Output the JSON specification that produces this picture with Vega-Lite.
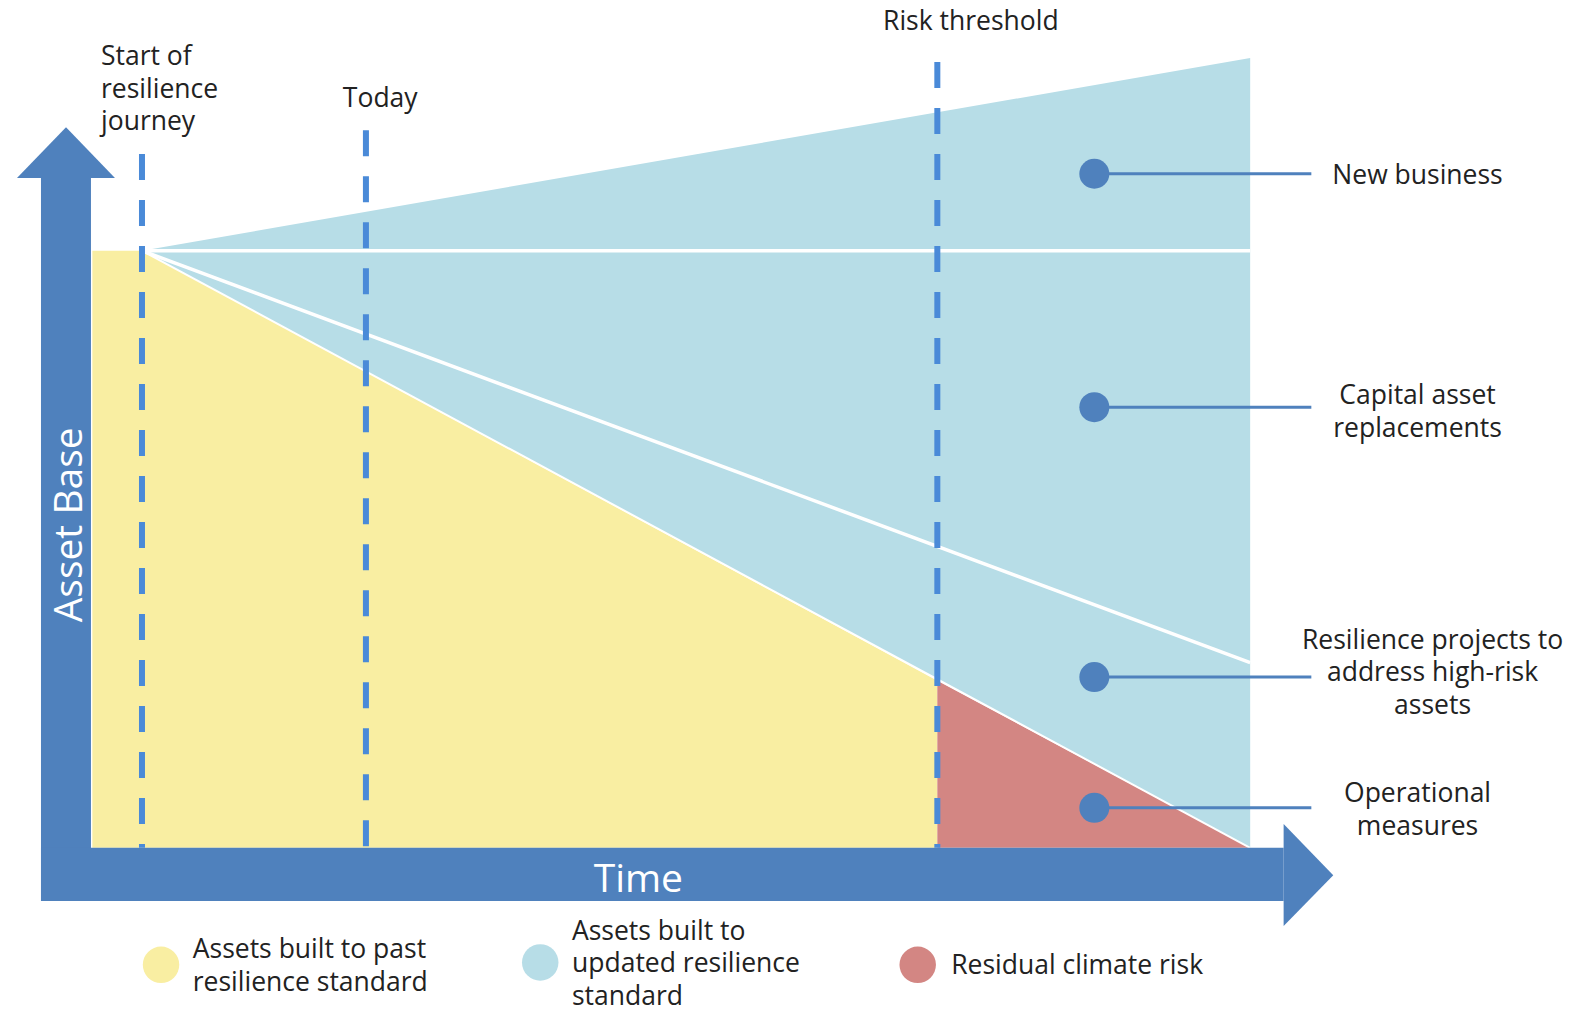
{
  "$schema": "https://vega.github.io/schema/vega-lite/v6.json",
  "width": 1593,
  "height": 1009,
  "autosize": {"type": "none"},
  "padding": 0,
  "background": "white",
  "config": {"view": {"stroke": null}, "font": "Open Sans"},
  "encoding": {
    "x": {"field": "t", "type": "quantitative", "scale": {"domain": [-8, 130], "nice": false, "zero": false}, "axis": null},
    "y": {"field": "v", "type": "quantitative", "scale": {"domain": [-27, 142], "nice": false, "zero": false}, "axis": null, "stack": null}
  },
  "layer": [
    {
      "data": {"values": [
        {"r": "past", "t": 0, "v": 100, "v2": 0},
        {"r": "past", "t": 4.3, "v": 100, "v2": 0},
        {"r": "past", "t": 73.2, "v": 28.0, "v2": 0},
        {"r": "risk", "t": 73.2, "v": 28.0, "v2": 0},
        {"r": "risk", "t": 100.3, "v": 0, "v2": 0},
        {"r": "updated", "t": 4.3, "v": 100, "v2": 100},
        {"r": "updated", "t": 100.3, "v": 132.3, "v2": 0}
      ]},
      "mark": {"type": "area", "opacity": 1},
      "encoding": {
        "y2": {"field": "v2"},
        "color": {"field": "r", "type": "nominal", "scale": {"domain": ["past", "updated", "risk"], "range": ["#f9eea2", "#b7dde7", "#d38683"]}, "legend": null}
      }
    },
    {
      "data": {"values": [
        {"l": "base", "t": 4.3, "v": 100},
        {"l": "base", "t": 100.3, "v": 100},
        {"l": "repl", "t": 4.3, "v": 100},
        {"l": "repl", "t": 100.3, "v": 31.0}
      ]},
      "mark": {"type": "line", "color": "white", "strokeWidth": 3.5},
      "encoding": {"detail": {"field": "l", "type": "nominal"}}
    },
    {
      "data": {"values": [
        {"l": "bound", "t": 4.3, "v": 100},
        {"l": "bound", "t": 100.3, "v": 0}
      ]},
      "mark": {"type": "line", "color": "white", "strokeWidth": 2},
      "encoding": {"detail": {"field": "l", "type": "nominal"}}
    },
    {
      "data": {"values": [
        {"t": -4.45, "t2": -0.12, "v": 112.2, "v2": -8.9},
        {"t": -4.45, "t2": 103.2, "v": 0, "v2": -8.9}
      ]},
      "mark": {"type": "rect", "color": "#4f81bd"},
      "encoding": {"x2": {"field": "t2"}, "y2": {"field": "v2"}}
    },
    {
      "data": {"values": [
        {"v": 112.2, "t": -6.53, "t2": 1.96},
        {"v": 120.7, "t": -2.28, "t2": -2.28}
      ]},
      "mark": {"type": "area", "orient": "horizontal", "color": "#4f81bd", "opacity": 1},
      "encoding": {"x2": {"field": "t2"}}
    },
    {
      "data": {"values": [
        {"t": 103.2, "v": 4.0, "v2": -13.1},
        {"t": 107.5, "v": -4.6, "v2": -4.6}
      ]},
      "mark": {"type": "area", "orient": "vertical", "color": "#4f81bd", "opacity": 1},
      "encoding": {"y2": {"field": "v2"}}
    },
    {
      "data": {"values": [
        {"t": 4.3, "v": 116.2, "v2": 0},
        {"t": 23.7, "v": 120.2, "v2": 0},
        {"t": 73.2, "v": 131.6, "v2": 0}
      ]},
      "mark": {"type": "rule", "color": "#4a8ad8", "strokeWidth": 6, "strokeDash": [26, 20]},
      "encoding": {"y2": {"field": "v2"}}
    },
    {
      "data": {"values": [
        {"t": 86.8, "t2": 105.6, "v": 112.9},
        {"t": 86.8, "t2": 105.6, "v": 73.8},
        {"t": 86.8, "t2": 105.6, "v": 28.6},
        {"t": 86.8, "t2": 105.6, "v": 6.7}
      ]},
      "mark": {"type": "rule", "color": "#4f81bd", "strokeWidth": 3},
      "encoding": {"x2": {"field": "t2"}}
    },
    {
      "data": {"values": [
        {"t": 86.8, "v": 112.9},
        {"t": 86.8, "v": 73.8},
        {"t": 86.8, "v": 28.6},
        {"t": 86.8, "v": 6.7}
      ]},
      "mark": {"type": "point", "filled": true, "shape": "circle", "size": 900, "color": "#4f81bd", "opacity": 1}
    },
    {
      "data": {"values": [
        {"t": 114.8, "v": 112.55, "label": ["New business"]},
        {"t": 114.8, "v": 75.65, "label": ["Capital asset", "replacements"]},
        {"t": 116.1, "v": 34.65, "label": ["Resilience projects to", "address high-risk", "assets"]},
        {"t": 114.8, "v": 9.0, "label": ["Operational", "measures"]}
      ]},
      "mark": {"type": "text", "align": "center", "baseline": "middle", "fontSize": 26.5, "lineHeight": 32.5, "color": "#222222", "font": "Open Sans"},
      "encoding": {"text": {"field": "label"}}
    },
    {
      "data": {"values": [
        {"t": 0.75, "v": 131.1, "label": ["Start of", "resilience", "journey"]},
        {"t": 21.7, "v": 124.1, "label": ["Today"]},
        {"t": 68.5, "v": 137.0, "label": ["Risk threshold"]}
      ]},
      "mark": {"type": "text", "align": "left", "baseline": "alphabetic", "fontSize": 26.5, "lineHeight": 32.5, "color": "#222222", "font": "Open Sans"},
      "encoding": {"text": {"field": "label"}}
    },
    {
      "data": {"values": [
        {"t": 8.7, "v": -17.15, "label": ["Assets built to past", "resilience standard"]},
        {"t": 41.55, "v": -14.1, "label": ["Assets built to", "updated resilience", "standard"]},
        {"t": 74.4, "v": -19.85, "label": ["Residual climate risk"]}
      ]},
      "mark": {"type": "text", "align": "left", "baseline": "middle", "fontSize": 26.5, "lineHeight": 32.5, "color": "#222222", "font": "Open Sans"},
      "encoding": {"text": {"field": "label"}}
    },
    {
      "data": {"values": [
        {"r": "past", "t": 5.95, "v": -19.6},
        {"r": "updated", "t": 38.8, "v": -19.2},
        {"r": "risk", "t": 71.5, "v": -19.6}
      ]},
      "mark": {"type": "point", "filled": true, "shape": "circle", "size": 1330, "opacity": 1},
      "encoding": {
        "color": {"field": "r", "type": "nominal", "scale": {"domain": ["past", "updated", "risk"], "range": ["#f9eea2", "#b7dde7", "#d38683"]}, "legend": null}
      }
    },
    {
      "data": {"values": [
        {"t": -1.96, "v": 54.1, "label": "Asset Base"}
      ]},
      "mark": {"type": "text", "align": "center", "baseline": "middle", "angle": 270, "fontSize": 39, "color": "white", "font": "Open Sans"},
      "encoding": {"text": {"field": "label"}}
    },
    {
      "data": {"values": [
        {"t": 47.3, "v": -5.35, "label": "Time"}
      ]},
      "mark": {"type": "text", "align": "center", "baseline": "middle", "fontSize": 39, "color": "white", "font": "Open Sans"},
      "encoding": {"text": {"field": "label"}}
    }
  ]
}
